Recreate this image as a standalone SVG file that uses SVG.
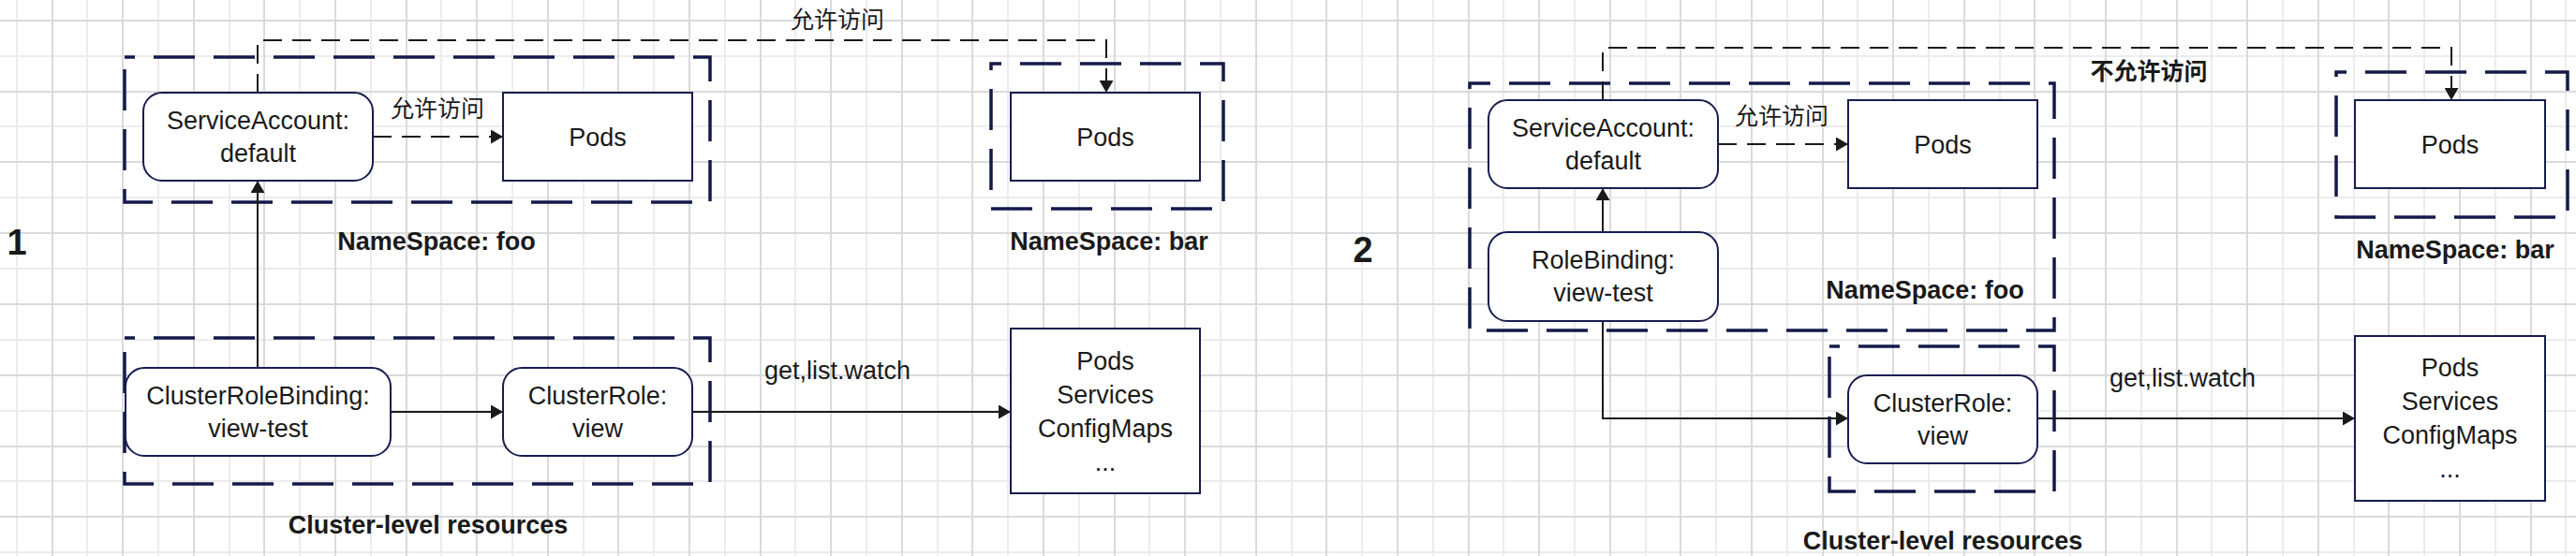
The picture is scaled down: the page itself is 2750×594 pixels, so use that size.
<svg xmlns="http://www.w3.org/2000/svg" width="2750" height="594" viewBox="0 0 2750 594">
<style>
.gl{fill:none;stroke:#ececec;stroke-width:2}
.gd{fill:none;stroke:#dadada;stroke-width:2}
.ns{fill:none;stroke:#131a4a;stroke-width:3.5;stroke-dasharray:44 20}
.node{fill:#fff;stroke:#161d4f;stroke-width:2}
.t{font-family:"Liberation Sans","Noto Sans CJK SC",sans-serif;font-size:27px;fill:#1a1a1a;text-anchor:middle}
.b{font-weight:bold}
.cjk{font-family:"Noto Sans CJK SC",sans-serif;font-size:25px}
.num{font-size:38px;font-weight:bold}
.edge{fill:none;stroke:#1a1a1a;stroke-width:2}
.dash{stroke-dasharray:20 11}
</style>
<defs>
<marker id="arr" markerWidth="14" markerHeight="15" refX="13" refY="7.5" orient="auto" markerUnits="userSpaceOnUse"><path d="M0,0 L13,7.5 L0,15 Z" fill="#1a1a1a"/></marker>
</defs>
<rect width="2750" height="594" fill="#fff"/>
<g id="grid">
<path class="gl" d="M18 0V594M93 0V594M169 0V594M245 0V594M320 0V594M396 0V594M471 0V594M547 0V594M623 0V594M698 0V594M774 0V594M849 0V594M925 0V594M1001 0V594M1076 0V594M1152 0V594M1227 0V594M1303 0V594M1379 0V594M1454 0V594M1530 0V594M1605 0V594M1681 0V594M1757 0V594M1832 0V594M1908 0V594M1983 0V594M2059 0V594M2135 0V594M2210 0V594M2286 0V594M2361 0V594M2437 0V594M2513 0V594M2588 0V594M2664 0V594M2739 0V594M0 60H2750M0 135H2750M0 211H2750M0 287H2750M0 363H2750M0 439H2750M0 514H2750M0 590H2750"/>
<path class="gd" d="M56 0V594M131 0V594M207 0V594M282 0V594M358 0V594M434 0V594M509 0V594M585 0V594M660 0V594M736 0V594M812 0V594M887 0V594M963 0V594M1038 0V594M1114 0V594M1190 0V594M1265 0V594M1341 0V594M1416 0V594M1492 0V594M1568 0V594M1643 0V594M1719 0V594M1794 0V594M1870 0V594M1946 0V594M2021 0V594M2097 0V594M2172 0V594M2248 0V594M2324 0V594M2399 0V594M2475 0V594M2550 0V594M2626 0V594M2702 0V594M0 22H2750M0 98H2750M0 173H2750M0 249H2750M0 325H2750M0 401H2750M0 477H2750M0 552H2750"/>
</g>
<g id="panel-labels">
<text class="t num" x="18" y="272">1</text>
<text class="t num" x="1455" y="280">2</text>
</g>
<!-- Panel 1 containers -->
<g id="ns-foo-1"><rect class="ns" x="133" y="61" width="625" height="155" stroke-dashoffset="33"/><text class="t b" x="466" y="267">NameSpace: foo</text></g>
<g id="ns-bar-1"><rect class="ns" x="1058" y="68" width="248" height="155" stroke-dashoffset="33"/><text class="t b" x="1184" y="267">NameSpace: bar</text></g>
<g id="cluster-1"><rect class="ns" x="133" y="361" width="625" height="156" stroke-dashoffset="33"/><text class="t b" x="457" y="570">Cluster-level resources</text></g>
<!-- Panel 2 containers -->
<g id="ns-foo-2"><rect class="ns" x="1569" y="89" width="624" height="264" stroke-dashoffset="22"/><text class="t b" x="2055" y="319">NameSpace: foo</text></g>
<g id="ns-bar-2"><rect class="ns" x="2494" y="77" width="247" height="155" stroke-dashoffset="33"/><text class="t b" x="2621" y="276">NameSpace: bar</text></g>
<g id="cluster-2"><rect class="ns" x="1953" y="370" width="240" height="155" stroke-dashoffset="33"/><text class="t b" x="2074" y="587">Cluster-level resources</text></g>
<g id="connectors">
<path class="edge dash" d="M398,146 H537" marker-end="url(#arr)"/>
<path class="edge dash" d="M275,99 V43 H1181 V99" marker-end="url(#arr)"/>
<path class="edge" d="M275,393 V193" marker-end="url(#arr)"/>
<path class="edge" d="M417,440 H537" marker-end="url(#arr)"/>
<path class="edge" d="M739,440 H1079" marker-end="url(#arr)"/>
<text class="t cjk" x="467" y="125">允许访问</text>
<text class="t cjk" x="894" y="30">允许访问</text>
<text class="t" x="894" y="405">get,list.watch</text>
<path class="edge dash" d="M1834,154 H1973" marker-end="url(#arr)"/>
<path class="edge dash" d="M1711,107 V51 H2617 V107" marker-end="url(#arr)"/>
<path class="edge" d="M1711,248 V201" marker-end="url(#arr)"/>
<path class="edge" d="M1711,343 V447 H1973" marker-end="url(#arr)"/>
<path class="edge" d="M2175,447 H2514" marker-end="url(#arr)"/>
<text class="t cjk" x="1902" y="133">允许访问</text>
<text class="t cjk b" x="2294" y="85">不允许访问</text>
<text class="t" x="2330" y="413">get,list.watch</text>
</g>
<!-- Panel 1 nodes -->
<g id="sa-1"><rect class="node" x="153" y="99" width="245" height="94" rx="20"/><text class="t" x="275.5" y="138">ServiceAccount:</text><text class="t" x="275.5" y="173">default</text></g>
<g id="pods-foo-1"><rect class="node" x="537" y="99" width="202" height="94"/><text class="t" x="638" y="156">Pods</text></g>
<g id="pods-bar-1"><rect class="node" x="1079" y="99" width="202" height="94"/><text class="t" x="1180" y="156">Pods</text></g>
<g id="crb-1"><rect class="node" x="134" y="393" width="283" height="94" rx="20"/><text class="t" x="275.5" y="432">ClusterRoleBinding:</text><text class="t" x="275.5" y="467">view-test</text></g>
<g id="cr-1"><rect class="node" x="537" y="393" width="202" height="94" rx="20"/><text class="t" x="638" y="432">ClusterRole:</text><text class="t" x="638" y="467">view</text></g>
<g id="res-1"><rect class="node" x="1079" y="351" width="202" height="176"/><text class="t" x="1180" y="395">Pods</text><text class="t" x="1180" y="431">Services</text><text class="t" x="1180" y="467">ConfigMaps</text><text class="t" x="1180" y="503">...</text></g>
<!-- Panel 2 nodes -->
<g id="sa-2"><rect class="node" x="1589" y="107" width="245" height="94" rx="20"/><text class="t" x="1711.5" y="146">ServiceAccount:</text><text class="t" x="1711.5" y="181">default</text></g>
<g id="pods-foo-2"><rect class="node" x="1973" y="107" width="202" height="94"/><text class="t" x="2074" y="164">Pods</text></g>
<g id="rb-2"><rect class="node" x="1589" y="248" width="245" height="95" rx="20"/><text class="t" x="1711.5" y="287">RoleBinding:</text><text class="t" x="1711.5" y="322">view-test</text></g>
<g id="pods-bar-2"><rect class="node" x="2514" y="107" width="203" height="94"/><text class="t" x="2615.5" y="164">Pods</text></g>
<g id="cr-2"><rect class="node" x="1973" y="401" width="202" height="94" rx="20"/><text class="t" x="2074" y="440">ClusterRole:</text><text class="t" x="2074" y="475">view</text></g>
<g id="res-2"><rect class="node" x="2514" y="359" width="203" height="176"/><text class="t" x="2615.5" y="402">Pods</text><text class="t" x="2615.5" y="438">Services</text><text class="t" x="2615.5" y="474">ConfigMaps</text><text class="t" x="2615.5" y="510">...</text></g>
</svg>
